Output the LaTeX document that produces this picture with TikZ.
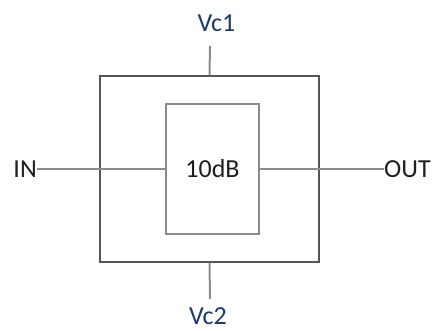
\documentclass[tikz,border=0pt]{standalone}
\usepackage{fontspec}
\setmainfont{Carlito}
\definecolor{navy}{HTML}{1F3A68}
\definecolor{txt}{HTML}{1E1E1E}
\definecolor{outerc}{HTML}{555555}
\definecolor{innerc}{HTML}{8A8A8A}
\definecolor{wirec}{HTML}{8C8C8C}
\tikzset{
  lbl/.style={font=\fontsize{26}{30}\selectfont, text=txt, inner sep=0pt},
  vlbl/.style={font=\fontsize{26}{30}\selectfont, text=navy, inner sep=0pt},
  outerbox/.style={draw=outerc, line width=1.5pt, minimum width=219pt, minimum height=186pt, inner sep=0pt},
  innerbox/.style={draw=innerc, line width=2pt, minimum width=93pt, minimum height=130pt, inner sep=0pt, font=\fontsize{26}{30}\selectfont, text=txt},
  wire/.style={draw=wirec, line width=2pt}
}
\begin{document}
\begin{tikzpicture}[x=1pt,y=-1pt]
\useasboundingbox (0,0) rectangle (438,331);
\node[outerbox] (outer) at (209.5,169) {};
\node[innerbox] (inner) at (212.5,169) {10dB};
\node[lbl, anchor=east] (in) at (37,169) {IN};
\node[lbl, anchor=west] (out) at (384,169) {OUT};
\node[vlbl] (vc1) at (216.5,23) {Vc1};
\node[vlbl] (vc2) at (208,316) {Vc2};
\coordinate (c1) at (210,46);
\coordinate (c2) at (210,299);
\draw[wire] (in.east) -- (inner.west);
\draw[wire] (inner.east) -- (out.west);
\draw[wire] (c1) -- (outer.north);
\draw[wire] (outer.south) -- (c2);
\end{tikzpicture}
\end{document}
